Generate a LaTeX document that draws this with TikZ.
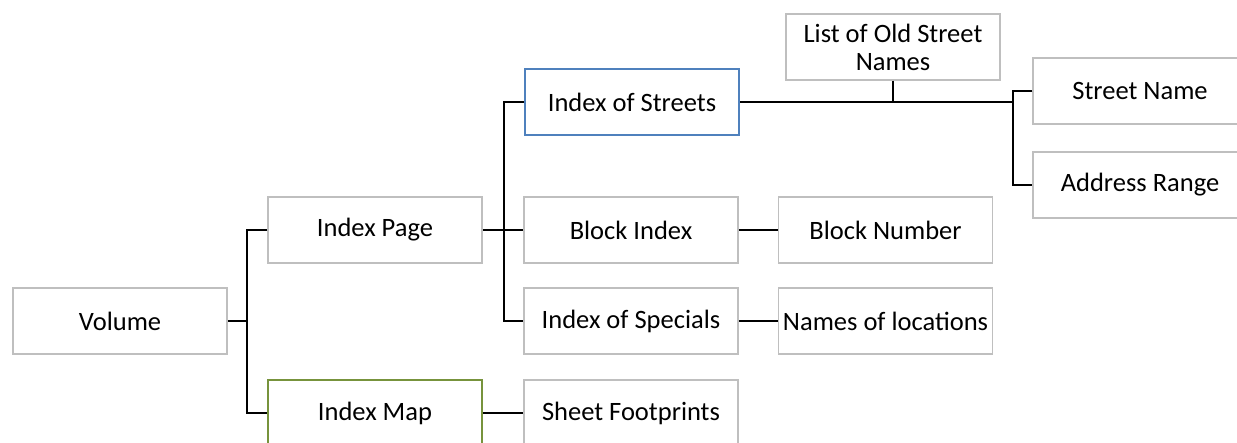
\documentclass[tikz,border=0pt]{standalone}
\usepackage{fontspec}
\setmainfont{Carlito}
\definecolor{boxgrey}{RGB}{191,191,191}
\definecolor{streetblue}{RGB}{79,129,189}
\definecolor{mapgreen}{RGB}{119,147,60}
\tikzset{
  box/.style={draw=boxgrey, line width=1.5pt, fill=white, minimum width=214pt,
    minimum height=66pt, inner sep=0pt, align=center,
    font=\fontsize{26.5}{28}\selectfont},
  streetbox/.style={box, draw=streetblue, line width=2pt},
  mapbox/.style={box, draw=mapgreen, line width=2pt},
  link/.style={line width=2.8pt}
}
\begin{document}
\begin{tikzpicture}[x=1pt,y=-1pt]
        \useasboundingbox (0,0) rectangle (1237,443);
        % first level
        \node[box] (vol) at (120,321) {Volume};
        \node[box] (page) at (375,230) {Index Page};
        \node[mapbox] (map) at (375,413) {Index Map};
        % second level
        \node[streetbox] (streets) at (632,102) {Index of Streets};
        \node[box] (block) at (631,230) {Block Index};
        \node[box] (specials) at (631,321) {Index of Specials};
        \node[box] (sheet) at (631,413) {Sheet Footprints};
        % third level
        \node[box] (oldnames) at (893,47) {List of Old Street\\Names};
        \node[box] (blocknum) at (885.5,230) {Block Number};
        \node[box] (locs) at (885.5,321) {Names of locations};
        \node[box] (stname) at (1140,91) {Street Name};
        \node[box] (addr) at (1140,185) {Address Range};
        % junctions
        \coordinate (j1) at (247,321);
        \coordinate (j2) at (504,230);
        \coordinate (j3) at (1013,102);
        % connectors
        \draw[link] (vol.east) -- (j1);
        \draw[link] (page.west) -| (j1) |- (map.west);
        \draw[link] (page.east) -- (block.west);
        \draw[link] (streets.west) -| (j2) |- (specials.west);
        \draw[link] (block.east) -- (blocknum.west);
        \draw[link] (specials.east) -- (locs.west);
        \draw[link] (map.east) -- (sheet.west);
        \draw[link] (streets.east) -- (j3);
        \draw[link] (oldnames.south) -- (oldnames.south |- streets.east);
        \draw[link] (stname.west) -| (j3) |- (addr.west);
\end{tikzpicture}
\end{document}
